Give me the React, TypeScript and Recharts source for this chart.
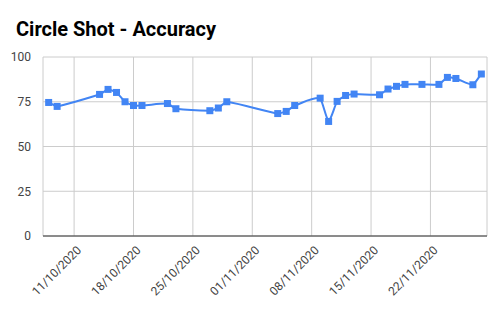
import { LineChart, Line, XAxis, YAxis, CartesianGrid } from "recharts";

document.body.style.margin = "0";

const dates = [
  "2020-10-08", "2020-10-09", "2020-10-14", "2020-10-15", "2020-10-16", "2020-10-17",
  "2020-10-18", "2020-10-19", "2020-10-22", "2020-10-23", "2020-10-27", "2020-10-28",
  "2020-10-29", "2020-11-04", "2020-11-05", "2020-11-06", "2020-11-09", "2020-11-10",
  "2020-11-11", "2020-11-12", "2020-11-13", "2020-11-16", "2020-11-17", "2020-11-18",
  "2020-11-19", "2020-11-21", "2020-11-23", "2020-11-24", "2020-11-25", "2020-11-27",
  "2020-11-28",
];
const accuracy = [
  74.6, 72.4, 79.1, 81.9, 80.2, 75.0, 72.9, 72.9, 74.0, 71.1, 70.0, 71.5, 75.0,
  68.4, 69.6, 72.9, 77.0, 64.0, 75.2, 78.5, 79.3, 78.9, 82.1, 83.6, 84.7, 84.7,
  84.7, 88.6, 88.0, 84.5, 90.5,
];
const tickDates = ["2020-10-11", "2020-10-18", "2020-10-25", "2020-11-01", "2020-11-08", "2020-11-15", "2020-11-22"];
const yTicks = [0, 25, 50, 75, 100];

const toTime = (d: string) => new Date(d + "T00:00:00Z").getTime();
const HOUR = 3600000;

const data = dates.map((d, i) => ({ t: toTime(d), value: accuracy[i] }));
const xTicks = tickDates.map(toTime);
const xDomain = [toTime("2020-10-07") + 8 * HOUR, toTime("2020-11-28") + 16 * HOUR];

const fmt = (t: number) => {
  const d = new Date(t);
  const dd = String(d.getUTCDate()).padStart(2, "0");
  const mm = String(d.getUTCMonth() + 1).padStart(2, "0");
  return `${dd}/${mm}/${d.getUTCFullYear()}`;
};

// light smoothing, similar to the "smooth" line option in sheets
const SMOOTH = 0.5;
const smoothCurve = (ctx: any) => {
  let pts: [number, number][] = [];
  return {
    areaStart() {},
    areaEnd() {},
    lineStart() {
      pts = [];
    },
    point(x: number, y: number) {
      pts.push([+x, +y]);
    },
    lineEnd() {
      const n = pts.length;
      if (!n) return;
      ctx.moveTo(pts[0][0], pts[0][1]);
      const d: number[] = [];
      for (let i = 0; i < n - 1; i++) d.push((pts[i + 1][1] - pts[i][1]) / (pts[i + 1][0] - pts[i][0] || 1));
      const m = pts.map((p, i) => {
        if (i === 0) return d[0] ?? 0;
        if (i === n - 1) return d[n - 2];
        return (pts[i + 1][1] - pts[i - 1][1]) / (pts[i + 1][0] - pts[i - 1][0] || 1);
      });
      for (let i = 0; i < n - 1; i++) {
        const [x0, y0] = pts[i];
        const [x1, y1] = pts[i + 1];
        const h = (x1 - x0) / 3;
        const t0 = SMOOTH * m[i] + (1 - SMOOTH) * d[i];
        const t1 = SMOOTH * m[i + 1] + (1 - SMOOTH) * d[i];
        ctx.bezierCurveTo(x0 + h, y0 + h * t0, x1 - h, y1 - h * t1, x1, y1);
      }
    },
  };
};

const DateTick = ({ x, y, payload }: any) => (
  <text
    x={x + 8}
    y={y + 7}
    transform={`rotate(-45, ${x + 8}, ${y + 7})`}
    textAnchor="end"
    fontSize={12}
    fill="#444"
    fontFamily="Roboto, Arial, sans-serif"
  >
    {fmt(payload.value)}
  </text>
);

const SquareDot = ({ cx, cy }: any) => (
  <rect x={cx - 3.5} y={cy - 3.5} width={7} height={7} fill="#4285F4" />
);

export default function App() {
  return (
    <div style={{ position: "relative", width: 502, height: 310, background: "#fff" }}>
      <div
        style={{
          position: "absolute",
          left: 16,
          top: 16.5,
          fontFamily: "Roboto, Arial, sans-serif",
          fontWeight: 700,
          fontSize: 20,
          color: "#000",
        }}
      >
        Circle Shot - Accuracy
      </div>
      <LineChart
        width={502}
        height={310}
        data={data}
        margin={{ top: 57, right: 15, left: 0, bottom: 10 }}
        style={{ position: "absolute", left: 0, top: 0 }}
      >
        <CartesianGrid stroke="#ccc" />
        <XAxis
          dataKey="t"
          type="number"
          scale="time"
          domain={xDomain}
          ticks={xTicks}
          tick={<DateTick />}
          tickLine={false}
          axisLine={{ stroke: "#333" }}
          height={64}
          interval={0}
        />
        <YAxis
          domain={[0, 100]}
          ticks={yTicks}
          width={43}
          axisLine={false}
          tickLine={false}
          tick={{ fontSize: 12, fill: "#444", fontFamily: "Roboto, Arial, sans-serif" }}
          tickMargin={6}
        />
        <Line
          dataKey="value"
          type={smoothCurve as any}
          stroke="#4285F4"
          strokeWidth={2}
          dot={<SquareDot />}
          activeDot={false}
          isAnimationActive={false}
        />
      </LineChart>
    </div>
  );
}
